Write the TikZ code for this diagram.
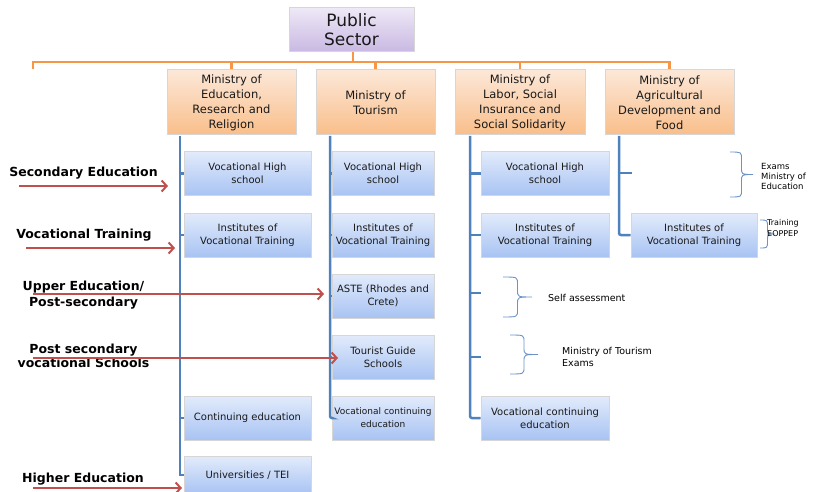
\documentclass[tikz,border=0pt]{standalone}
\usepackage{fontspec}
\setmainfont{DejaVu Sans}
\usetikzlibrary{arrows.meta,calc}

\definecolor{orgline}{HTML}{F79646}
\definecolor{pubtop}{HTML}{EEE8F7}
\definecolor{pubbot}{HTML}{C9B8E2}
\definecolor{mintop}{HTML}{FCE8D8}
\definecolor{minbot}{HTML}{F9BE8A}
\definecolor{unittop}{HTML}{E2EBFB}
\definecolor{unitbot}{HTML}{A8C3F3}
\definecolor{trunkblue}{HTML}{4F81BD}
\definecolor{arrowred}{HTML}{C0504D}
\definecolor{bracecol}{HTML}{6A93C8}

% curly brace opening to the right: left x, tip x, top y, bottom y
\newcommand{\officebrace}[4]{%
  \draw[bracestyle] (#1,#3) .. controls ({(#1+#2)/2},#3) .. ({(#1+#2)/2},{#3+7})
    -- ({(#1+#2)/2},{(#3+#4)/2-7}) .. controls ({(#1+#2)/2},{(#3+#4)/2}) .. (#2,{(#3+#4)/2})
    .. controls ({(#1+#2)/2},{(#3+#4)/2}) .. ({(#1+#2)/2},{(#3+#4)/2+7})
    -- ({(#1+#2)/2},{#4-7}) .. controls ({(#1+#2)/2},#4) .. (#1,#4);}

\begin{document}
\begin{tikzpicture}[x=1pt,y=-1pt,
  box/.style={rectangle, draw=black!16, line width=1pt, align=center, inner sep=1pt, text=black!90},
  pubbox/.style={box, top color=pubtop, bottom color=pubbot, minimum width=125pt, minimum height=44pt,
    font=\fontsize{17}{19}\selectfont},
  minbox/.style={box, top color=mintop, bottom color=minbot, minimum height=65pt,
    font=\fontsize{11.5}{15}\selectfont},
  unitbox/.style={box, top color=unittop, bottom color=unitbot, minimum height=44pt,
    font=\fontsize{10}{13}\selectfont},
  orgwire/.style={draw=orgline, line width=2.2pt},
  trunk/.style={draw=trunkblue, line width=2.5pt},
  levelarrow/.style={draw=arrowred, line width=2pt, -{Straight Barb[length=5pt,width=11pt]}},
  level/.style={font=\bfseries\fontsize{12.5}{15}\selectfont, align=center},
  note/.style={font=\fontsize{9.5}{12}\selectfont, align=left, anchor=west, inner sep=0pt},
  bracestyle/.style={draw=bracecol, line width=0.9pt}
]
\useasboundingbox (0,0) rectangle (814,492);

% top of the tree
\node[pubbox] (pub) at (351.5,30) {Public\\Sector};

\node[minbox, minimum width=129pt] (edu)  at (231.5,102.5) {Ministry of\\Education,\\Research and\\Religion};
\node[minbox, minimum width=119pt] (tour) at (375.5,102.5) {Ministry of\\Tourism};
\node[minbox, minimum width=130pt] (lab)  at (520,102.5)   {Ministry of\\Labor, Social\\Insurance and\\Social Solidarity};
\node[minbox, minimum width=129pt] (agr)  at (669.5,102.5) {Ministry of\\Agricultural\\Development and\\Food};

% orange bus
\coordinate (busL) at (33,69);
\coordinate (busmid) at (353,62);
\draw[orgwire] (pub.south -| busmid) -- (busmid);
\draw[orgwire] (busL) -- (busL |- busmid) -| (agr.north);
\draw[orgwire] (edu.north |- busmid) -- (edu.north);
\draw[orgwire] (tour.north |- busmid) -- (tour.north);
\draw[orgwire] (lab.north |- busmid) -- (lab.north);

% column 1: education
\node[unitbox, minimum width=127pt] (vhsA) at (247.5,173.5) {Vocational High\\school};
\node[unitbox, minimum width=127pt] (ivtA) at (247.5,235)   {Institutes of\\Vocational Training};
\node[unitbox, minimum width=127pt] (ceA)  at (247.5,418)   {Continuing education};
\node[unitbox, minimum width=127pt, minimum height=38pt] (uniA) at (247.5,475) {Universities / TEI};

% column 2: tourism
\node[unitbox, minimum width=102pt] (vhsB) at (383,173.5) {Vocational High\\school};
\node[unitbox, minimum width=102pt] (ivtB) at (383,235)   {Institutes of\\Vocational Training};
\node[unitbox, minimum width=102pt] (aste) at (383,296)   {ASTE (Rhodes and\\Crete)};
\node[unitbox, minimum width=102pt] (tgs)  at (383,357)   {Tourist Guide\\Schools};
\node[unitbox, minimum width=102pt, font=\fontsize{9}{13}\selectfont] (vceB) at (383,418) {Vocational continuing\\education};

% column 3: labor
\node[unitbox, minimum width=128pt] (vhsC) at (545,173.5) {Vocational High\\school};
\node[unitbox, minimum width=128pt] (ivtC) at (545,235)   {Institutes of\\Vocational Training};
\node[unitbox, minimum width=128pt] (vceC) at (545,418)   {Vocational continuing\\education};

% column 4: agriculture
\node[unitbox, minimum width=126pt] (ivtD) at (694,235) {Institutes of\\Vocational Training};

% blue trunks and branches
\coordinate (tA) at (180,136);
\coordinate (tB) at (330,136);
\coordinate (tC) at (470,136);
\coordinate (tD) at (619,136);
\coordinate (tickC1) at (481,293);
\coordinate (tickC2) at (481,357);
\coordinate (tickD) at (632,173);

\draw[trunk] (tA) |- (uniA.west);
\foreach \b in {vhsA,ivtA,ceA} \draw[trunk] (tA |- \b.west) -- (\b.west);

\draw[trunk, rounded corners=2pt] (tB) |- (vceB.west);
\foreach \b in {vhsB,ivtB,aste,tgs} \draw[trunk] (tB |- \b.west) -- (\b.west);

\draw[trunk, rounded corners=2pt] (tC) |- (vceC.west);
\foreach \b in {vhsC,ivtC} \draw[trunk] (tC |- \b.west) -- (\b.west);
\draw[trunk] (tC |- tickC1) -- (tickC1);
\draw[trunk] (tC |- tickC2) -- (tickC2);

\draw[trunk, rounded corners=2pt] (tD) |- (ivtD.west);
\draw[trunk] (tD |- tickD) -- (tickD);

% braces and side notes
\officebrace{730}{753}{152}{197}
\officebrace{760}{775}{220}{248}
\officebrace{503}{532}{277}{317}
\officebrace{510}{538}{335}{374}

\node[note, font=\fontsize{8.5}{10}\selectfont] (nexam) at (761,176) {Exams\\Ministry of\\Education};
\node[note, font=\fontsize{8}{11}\selectfont] (ntrain) at (767,228.5) {Training\\EOPPEP};
\node[note] (nself) at (548,298) {Self assessment};
\node[note] (ntour) at (562,357) {Ministry of Tourism\\Exams};

% education levels on the left
\node[level] (lvA) at (83.5,173) {Secondary Education};
\node[level] (lvB) at (84,235)   {Vocational Training};
\node[level, font=\bfseries\fontsize{12.5}{16}\selectfont] (lvC) at (83.5,295) {Upper Education/\\Post-secondary};
\node[level, font=\bfseries\fontsize{12.5}{14}\selectfont] (lvD) at (83.5,356) {Post secondary\\vocational Schools};
\node[level] (lvE) at (83,479)   {Higher Education};

\coordinate (aAs) at (19,186);  \coordinate (aAe) at (168,186);
\coordinate (aBs) at (26,248);  \coordinate (aBe) at (175,248);
\coordinate (aCs) at (33,294);  \coordinate (aCe) at (324,294);
\coordinate (aDs) at (33,358);  \coordinate (aDe) at (338,358);
\coordinate (aEs) at (33,488);  \coordinate (aEe) at (182,488);

\draw[levelarrow] (aAs) -- (aAe);
\draw[levelarrow] (aBs) -- (aBe);
\draw[levelarrow] (aCs) -- (aCe);
\draw[levelarrow] (aDs) -- (aDe);
\draw[levelarrow] (aEs) -- (aEe);
\end{tikzpicture}
\end{document}
